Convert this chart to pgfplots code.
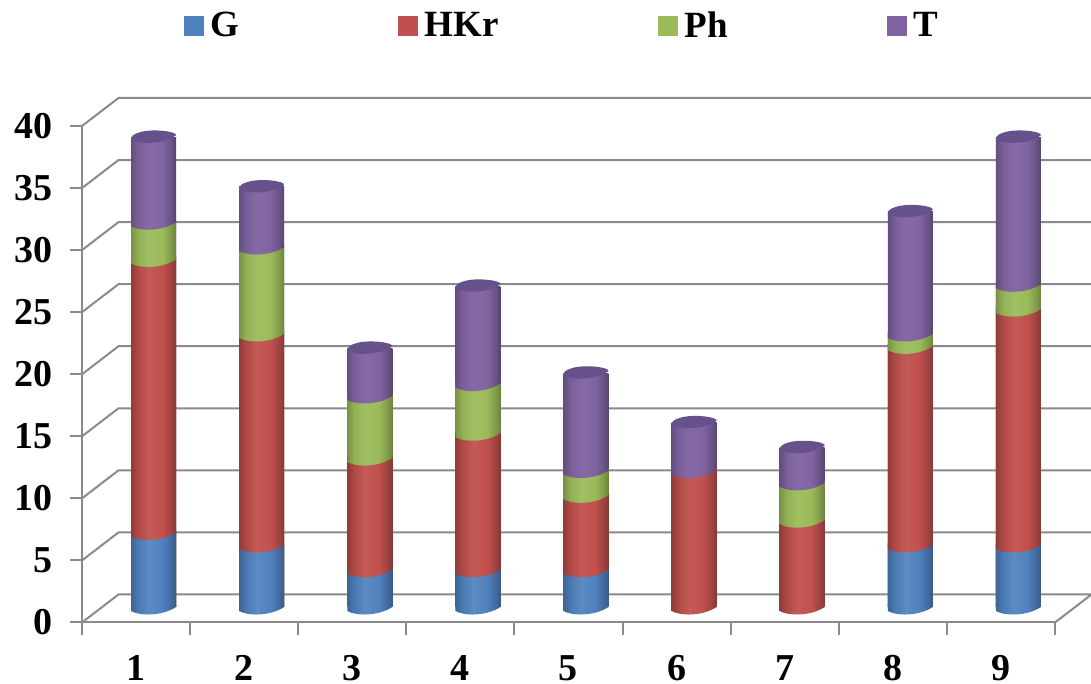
\documentclass[border=0pt]{standalone}
\usepackage{fontspec}
\setmainfont{Liberation Serif}
\usepackage{pgfplots}
\usepackage{pgfplotstable}
\pgfplotsset{compat=1.18}

% one drawing unit
\def\pxu{0.5pt}
% the flat foot of each body sits this far (in data units) above the rim of its curved base
\def\bodylift{0.16}

\definecolor{framegray}{HTML}{8A8A8A}
\definecolor{capT}{HTML}{67518A}
\definecolor{keyG}{HTML}{4F81BD}
\definecolor{keyH}{HTML}{C0504D}
\definecolor{keyP}{HTML}{9BBB59}
\definecolor{keyT}{HTML}{8064A2}

% cylinder surface shadings: the range 25bp..75bp spans the bar width
\pgfdeclarehorizontalshading{cylG}{100bp}{color(0bp)=(keyG!80!black); color(25bp)=(keyG!78!black); color(33bp)=(keyG!95!black); color(45bp)=(keyG!92!white); color(60bp)=(keyG); color(70bp)=(keyG!82!black); color(75bp)=(keyG!70!black); color(100bp)=(keyG!70!black)}
\pgfdeclarehorizontalshading{cylH}{100bp}{color(0bp)=(keyH!75!black); color(25bp)=(keyH!75!black); color(33bp)=(keyH!92!black); color(45bp)=(keyH!94!white); color(60bp)=(keyH); color(70bp)=(keyH!82!black); color(75bp)=(keyH!70!black); color(100bp)=(keyH!70!black)}
\pgfdeclarehorizontalshading{cylP}{100bp}{color(0bp)=(keyP!78!black); color(25bp)=(keyP!78!black); color(33bp)=(keyP!95!black); color(45bp)=(keyP!94!white); color(60bp)=(keyP); color(70bp)=(keyP!82!black); color(75bp)=(keyP!70!black); color(100bp)=(keyP!70!black)}
\pgfdeclarehorizontalshading{cylT}{100bp}{color(0bp)=(keyT!78!black); color(25bp)=(keyT!78!black); color(33bp)=(keyT!95!black); color(45bp)=(keyT!96!white); color(60bp)=(keyT); color(70bp)=(keyT!82!black); color(75bp)=(keyT!68!black); color(100bp)=(keyT!68!black)}

% curved underside of a cylinder segment
\newcommand\declaresegment[1]{%
  \pgfdeclareplotmark{under#1}{%
    \shade[draw=none, shading=cyl#1] (-22.5*\pxu,-2*\pxu) .. controls (-14*\pxu,-7*\pxu) and (8*\pxu,-7.5*\pxu) .. (22.5*\pxu,2*\pxu) -- (22.5*\pxu,4.5*\pxu) -- (-22.5*\pxu,4.5*\pxu) -- cycle;}%
  \pgfdeclareplotmark{block#1}{%
    \shade[draw=none, shading=cyl#1] (-22.5*\pxu,-1*\pxu) rectangle (22.5*\pxu,3.5*\pxu);}%
}
\declaresegment{G}
\declaresegment{H}
\declaresegment{P}
\declaresegment{T}
% top face of the stack
\pgfdeclareplotmark{topcap}{%
  \fill[capT, draw=none] (-22.5*\pxu,-2*\pxu) .. controls (-14*\pxu,-7*\pxu) and (8*\pxu,-7.5*\pxu) .. (22.5*\pxu,2*\pxu)
     .. controls (24*\pxu,6*\pxu) and (-2*\pxu,9*\pxu) .. (-14*\pxu,5*\pxu)
     .. controls (-20*\pxu,3.5*\pxu) and (-22.5*\pxu,1*\pxu) .. (-22.5*\pxu,-2*\pxu) -- cycle;}

\pgfplotstableread{
x G HKr Ph T
1 6 22 3 7
2 5 17 7 5
3 3 9 5 4
4 3 11 4 8
5 3 6 2 8
6 0 11 0 4
7 0 7 3 3
8 5 16 1 10
9 5 19 2 12
}\datatable

\pgfplotsset{
  cylinders/.style={
    anchor=south west,
    scale only axis, width=973*\pxu, height=496.5*\pxu,
    xmin=0.5, xmax=9.5, ymin=0, ymax=40, clip=false, hide axis},
  joint/.style={only marks, mark=#1, mark options={draw=none}},
  body/.style={ybar, bar width=22.5pt, bar shift=0pt, draw=none, shade, shading=#1},
}

\begin{document}
\begin{tikzpicture}[x=1pt,y=1pt]
\useasboundingbox (0,0) rectangle (1091*\pxu,684*\pxu);

% walls, floor and the two visible axes
\begin{axis}[
  at={(82*\pxu,61.5*\pxu)}, anchor=south west,
  scale only axis, width=973*\pxu, height=496.5*\pxu,
  xmin=0, xmax=9, ymin=0, ymax=40, clip=false,
  axis x line*=bottom, axis y line*=left,
  axis line style={framegray, line width=1pt, -},
  every tick/.style={framegray, line width=1pt},
  tick align=outside, major tick length=6pt,
  ytick={0,5,...,40},
  xtick={0,...,9},
  xticklabels={},
  extra x ticks={0.5,1.5,...,8.5},
  extra x tick labels={1,2,3,4,5,6,7,8,9},
  extra x tick style={major tick length=0pt, tick style={draw=none}},
  /pgf/number format/assume math mode=true,
  tick label style={font=\fontsize{19}{19}\selectfont\bfseries},
  yticklabel style={xshift=-5.2pt},
  xticklabel style={inner sep=0pt, yshift=-16.3pt},
  legend columns=4,
  legend style={at={(0.104,1.2397)}, anchor=north west, draw=none, fill=none, inner sep=0pt,
    /tikz/every even column/.append style={column sep=77.5pt},
    font=\fontsize{18.5}{18.5}\selectfont\bfseries},
  legend image code/.code={\fill[#1] (0pt,-4.75pt) rectangle (9.5pt,4.75pt); \path (11pt,0pt);},
]
\addplot[framegray, line width=1pt, forget plot] coordinates {(0,0) (0.338,2.26) (9.338,2.26) (9,0)};
\addplot[framegray, line width=1pt, forget plot] coordinates {(0,5) (0.338,7.26) (9.338,7.26)};
\addplot[framegray, line width=1pt, forget plot] coordinates {(0,10) (0.338,12.26) (9.338,12.26)};
\addplot[framegray, line width=1pt, forget plot] coordinates {(0,15) (0.338,17.26) (9.338,17.26)};
\addplot[framegray, line width=1pt, forget plot] coordinates {(0,20) (0.338,22.26) (9.338,22.26)};
\addplot[framegray, line width=1pt, forget plot] coordinates {(0,25) (0.338,27.26) (9.338,27.26)};
\addplot[framegray, line width=1pt, forget plot] coordinates {(0,30) (0.338,32.26) (9.338,32.26)};
\addplot[framegray, line width=1pt, forget plot] coordinates {(0,35) (0.338,37.26) (9.338,37.26)};
\addplot[framegray, line width=1pt, forget plot] coordinates {(0,40) (0.338,42.26) (9.338,42.26)};
\addlegendimage{keyG}\addlegendentry{G}
\addlegendimage{keyH}\addlegendentry{HKr}
\addlegendimage{keyP}\addlegendentry{Ph}
\addlegendimage{keyT}\addlegendentry{T}
\end{axis}

% cylinder bodies: each column is drawn from its full height downwards,
% every shorter partial sum painting over the taller one
\begin{axis}[cylinders, at={(99.5*\pxu,77*\pxu)}]
\pgfplotsinvokeforeach{1,...,9}{
  \addplot[body=cylT, restrict x to domain=#1:#1]
    table[x=x, y expr=\thisrow{G}+\thisrow{HKr}+\thisrow{Ph}+\thisrow{T}-\bodylift] {\datatable};
  \addplot[body=cylP, restrict x to domain=#1:#1]
    table[x=x, y expr=\thisrow{G}+\thisrow{HKr}+\thisrow{Ph}-\bodylift] {\datatable};
  \addplot[body=cylH, restrict x to domain=#1:#1]
    table[x=x, y expr=\thisrow{G}+\thisrow{HKr}-\bodylift] {\datatable};
  \addplot[body=cylG, restrict x to domain=#1:#1, restrict y to domain=0.5:100]
    table[x=x, y expr=\thisrow{G}-\bodylift] {\datatable};
}
\end{axis}

% curved joints between the segments, and the top faces
\begin{axis}[cylinders, at={(99.5*\pxu,75*\pxu)}]
\addplot[joint=underG] coordinates {(1,0) (2,0) (3,0) (4,0) (5,0) (8,0) (9,0)};
\addplot[joint=underH] coordinates {(6,0) (7,0)};
\addplot[joint=blockG] coordinates {(1,6) (2,5) (3,3) (4,3) (5,3) (8,5) (9,5)};
\addplot[joint=underH] coordinates {(1,6) (2,5) (3,3) (4,3) (5,3) (8,5) (9,5)};
\addplot[joint=blockH] coordinates {(1,28) (2,22) (3,12) (4,14) (5,9) (6,11) (7,7) (8,21) (9,24)};
\addplot[joint=underP] coordinates {(1,28) (2,22) (3,12) (4,14) (5,9) (7,7) (8,21) (9,24)};
\addplot[joint=underT] coordinates {(6,11)};
\addplot[joint=blockP] coordinates {(1,31) (2,29) (3,17) (4,18) (5,11) (7,10) (8,22) (9,26)};
\addplot[joint=underT] coordinates {(1,31) (2,29) (3,17) (4,18) (5,11) (7,10) (8,22) (9,26)};
\addplot[joint=topcap] coordinates {(1,38) (2,34) (3,21) (4,26) (5,19) (6,15) (7,13) (8,32) (9,38)};
\end{axis}
\end{tikzpicture}
\end{document}
